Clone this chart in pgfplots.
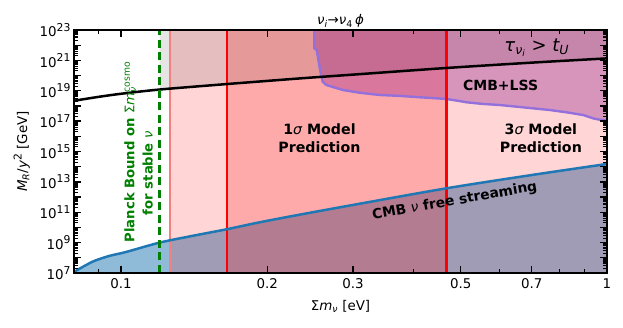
\documentclass[border=0pt]{standalone}
\usepackage{pgfplots}
\pgfplotsset{compat=1.18}
\usepackage{fontspec}
\setmainfont{DejaVu Sans}
\definecolor{czero}{RGB}{31,119,180}
\definecolor{mpurple}{RGB}{147,112,219}
\definecolor{fpurple}{RGB}{128,0,128}
\definecolor{lcoral}{RGB}{245,128,128}
\definecolor{mgreen}{RGB}{0,128,0}
\newcommand\fs{\fontsize{13.4}{16}\selectfont}
\newcommand\sups[1]{\raisebox{0.42em}{\fontsize{10.8}{12}\selectfont #1}}
\begin{document}
\begin{tikzpicture}
\useasboundingbox (-74pt,-55pt) rectangle (549pt,273pt);
\begin{axis}[
  at={(0,0)}, anchor=south west, scale only axis,
  width=533pt, height=243pt,
  xmode=log, ymode=log,
  xmin=0.08, xmax=1, ymin=1e7, ymax=1e23,
  axis on top,
  xtick={0.1,0.2,0.3,0.5,0.7,1},
  xticklabels={0.1,0.2,0.3,0.5,0.7,1},
  minor xtick={0.09,0.4,0.6,0.8,0.9},
  ytick={1e7,1e8,1e9,1e10,1e11,1e12,1e13,1e14,1e15,1e16,1e17,1e18,1e19,1e20,1e21,1e22,1e23},
  yticklabels={10\sups{7},,10\sups{9},,10\sups{11},,10\sups{13},,10\sups{15},,10\sups{17},,10\sups{19},,10\sups{21},,10\sups{23}},
  minor ytick={2e7,3e7,4e7,5e7,6e7,7e7,8e7,9e7,
    2e8,3e8,4e8,5e8,6e8,7e8,8e8,9e8,
    2e9,3e9,4e9,5e9,6e9,7e9,8e9,9e9,
    2e10,3e10,4e10,5e10,6e10,7e10,8e10,9e10,
    2e11,3e11,4e11,5e11,6e11,7e11,8e11,9e11,
    2e12,3e12,4e12,5e12,6e12,7e12,8e12,9e12,
    2e13,3e13,4e13,5e13,6e13,7e13,8e13,9e13,
    2e14,3e14,4e14,5e14,6e14,7e14,8e14,9e14,
    2e15,3e15,4e15,5e15,6e15,7e15,8e15,9e15,
    2e16,3e16,4e16,5e16,6e16,7e16,8e16,9e16,
    2e17,3e17,4e17,5e17,6e17,7e17,8e17,9e17,
    2e18,3e18,4e18,5e18,6e18,7e18,8e18,9e18,
    2e19,3e19,4e19,5e19,6e19,7e19,8e19,9e19,
    2e20,3e20,4e20,5e20,6e20,7e20,8e20,9e20,
    2e21,3e21,4e21,5e21,6e21,7e21,8e21,9e21,
    2e22,3e22,4e22,5e22,6e22,7e22,8e22,9e22},
  tick align=inside,
  major tick length=7pt, minor tick length=4pt,
  every major tick/.style={black, line width=1.3pt},
  every minor tick/.style={black, line width=1pt},
  axis line style={line width=1.8pt},
  tick label style={font=\fs},
  xticklabel style={yshift=-2pt},
  xlabel={Σ{\itshape m}\textsubscript{\itshape ν} [eV]},
  xlabel style={font=\fs, at={(axis description cs:0.5,-0.138)}, anchor=center},
  ylabel={{\itshape M}\textsubscript{\itshape R}/{\itshape y}\sups{2} [GeV]},
  ylabel style={font=\fs, at={(axis description cs:-0.098,0.5)}, anchor=center},
  title={{\itshape ν}\textsubscript{\itshape i}→{\itshape ν}\textsubscript{4}\,{\itshape ϕ}},
  title style={font=\fs, at={(axis description cs:0.5,1)}, anchor=base, yshift=-1pt},
]
% blue region (CMB nu free streaming)
\addplot[draw=none, fill=czero, fill opacity=0.5] coordinates {
 (0.08,1e7) (0.08,1.17e7) (0.0873,5.50e7) (0.0945,1.32e8) (0.1023,2.40e8)
 (0.12,1.0e9) (0.14,2.75e9) (0.165,7.59e9) (0.193,2.19e10) (0.233,6.92e10)
 (0.3,3.02e11) (0.468,3.80e12) (0.7,2.82e13) (1.0,1.51e14) (1.0,1e7)};
% 3 sigma band
\addplot[draw=none, fill=red, fill opacity=0.165] coordinates {
 (0.126,1e7) (1,1e7) (1,1e23) (0.126,1e23)};
% 1 sigma band
\addplot[draw=none, fill=red, fill opacity=0.2] coordinates {
 (0.165,1e7) (0.467,1e7) (0.467,1e23) (0.165,1e23)};
% grey region above tau > t_U
\addplot[draw=none, fill=black, fill opacity=0.1] coordinates {
 (0.12,1.20e19) (0.165,2.75e19) (0.233,6.46e19) (0.3,1.15e20)
 (0.468,3.16e20) (0.7,7.08e20) (1,1.35e21) (1,1e23) (0.12,1e23)};
% CMB+LSS region
\addplot[draw=none, fill=fpurple, fill opacity=0.3] coordinates {
 (0.25,1e23) (0.25,6.17e21) (0.2527,4.79e21) (0.2551,8.13e20) (0.258,1.07e20)
 (0.26,3.89e19) (0.2643,2.40e19) (0.286,1.12e19) (0.3095,7.41e18) (0.3404,5.25e18)
 (0.3743,4.57e18) (0.4116,3.72e18) (0.467,2.88e18) (0.4975,2.09e18) (0.5137,1.74e18)
 (0.5556,1.35e18) (0.6017,1.15e18) (0.6513,8.91e17) (0.7047,6.92e17) (0.7631,5.37e17)
 (0.8258,3.80e17) (0.8936,2.51e17) (0.9371,1.51e17) (0.9674,1.23e17) (1.0,1.17e17)
 (1,1e23)};
% purple boundary
\addplot[mpurple, line width=2.4pt] coordinates {
 (0.25,1.2e23) (0.25,6.17e21) (0.2527,4.79e21) (0.2551,8.13e20) (0.258,1.07e20)
 (0.26,3.89e19) (0.2643,2.40e19) (0.286,1.12e19) (0.3095,7.41e18) (0.3404,5.25e18)
 (0.3743,4.57e18) (0.4116,3.72e18) (0.467,2.88e18) (0.4975,2.09e18) (0.5137,1.74e18)
 (0.5556,1.35e18) (0.6017,1.15e18) (0.6513,8.91e17) (0.7047,6.92e17) (0.7631,5.37e17)
 (0.8258,3.80e17) (0.8936,2.51e17) (0.9371,1.51e17) (0.9674,1.23e17) (1.0,1.17e17)};
% band edges
\addplot[lcoral, line width=1.6pt] coordinates {(0.126,1e7) (0.126,1e23)};
\addplot[red, line width=2.4pt] coordinates {(0.165,1e7) (0.165,1e23)};
\addplot[red, line width=2.4pt] coordinates {(0.467,1e7) (0.467,1e23)};
% tau > t_U line
\addplot[black, line width=2.5pt, smooth] coordinates {
 (0.08,2.19e18) (0.09,3.98e18) (0.1,6.31e18) (0.12,1.20e19) (0.165,2.75e19)
 (0.233,6.46e19) (0.3,1.15e20) (0.468,3.16e20) (0.7,7.08e20) (1,1.35e21)};
% CMB free streaming line
\addplot[czero, line width=2.5pt, smooth] coordinates {
 (0.08,1.17e7) (0.0873,5.50e7) (0.0945,1.32e8) (0.1023,2.40e8)
 (0.12,1.0e9) (0.14,2.75e9) (0.165,7.59e9) (0.193,2.19e10) (0.233,6.92e10)
 (0.3,3.02e11) (0.468,3.80e12) (0.7,2.82e13) (1.0,1.51e14)};
% Planck bound
\addplot[mgreen, line width=2.4pt, dash pattern=on 8pt off 4.5pt] coordinates {(0.12,1e7) (0.12,1e23)};
% labels
\node[font=\fontsize{14.2}{18}\selectfont\bfseries, align=center] at (axis cs:0.256,7.8e15)
  {1{\mdseries\itshape σ} Model\\Prediction};
\node[font=\fontsize{14.2}{18}\selectfont\bfseries, align=center] at (axis cs:0.731,7.8e15)
  {3{\mdseries\itshape σ} Model\\Prediction};
\node[font=\fontsize{14}{16}\selectfont\bfseries] at (axis cs:0.604,2.4e19) {CMB+LSS};
\node[font=\fontsize{18}{20}\selectfont\itshape] at (axis cs:0.717,6.5e21)
  {τ\textsubscript{ν\textsubscript{i}} > t\textsubscript{U}};
\node[font=\fontsize{13.8}{16}\selectfont\bfseries, rotate=10] at (axis cs:0.486,5.2e11)
  {CMB {\mdseries\itshape ν} free streaming};
\node[font=\fontsize{13.2}{15}\selectfont\bfseries, text=mgreen, rotate=90] at (axis cs:0.1044,9.3e14)
  {Planck Bound on {\mdseries Σ{\itshape m}\rlap{\textsubscript{\itshape ν}}\textsuperscript{cosmo}}};
\node[font=\fontsize{13.2}{15}\selectfont\bfseries, text=mgreen, rotate=90] at (axis cs:0.1135,3.8e13)
  {for stable {\mdseries\itshape ν}};
\end{axis}
\end{tikzpicture}
\end{document}
